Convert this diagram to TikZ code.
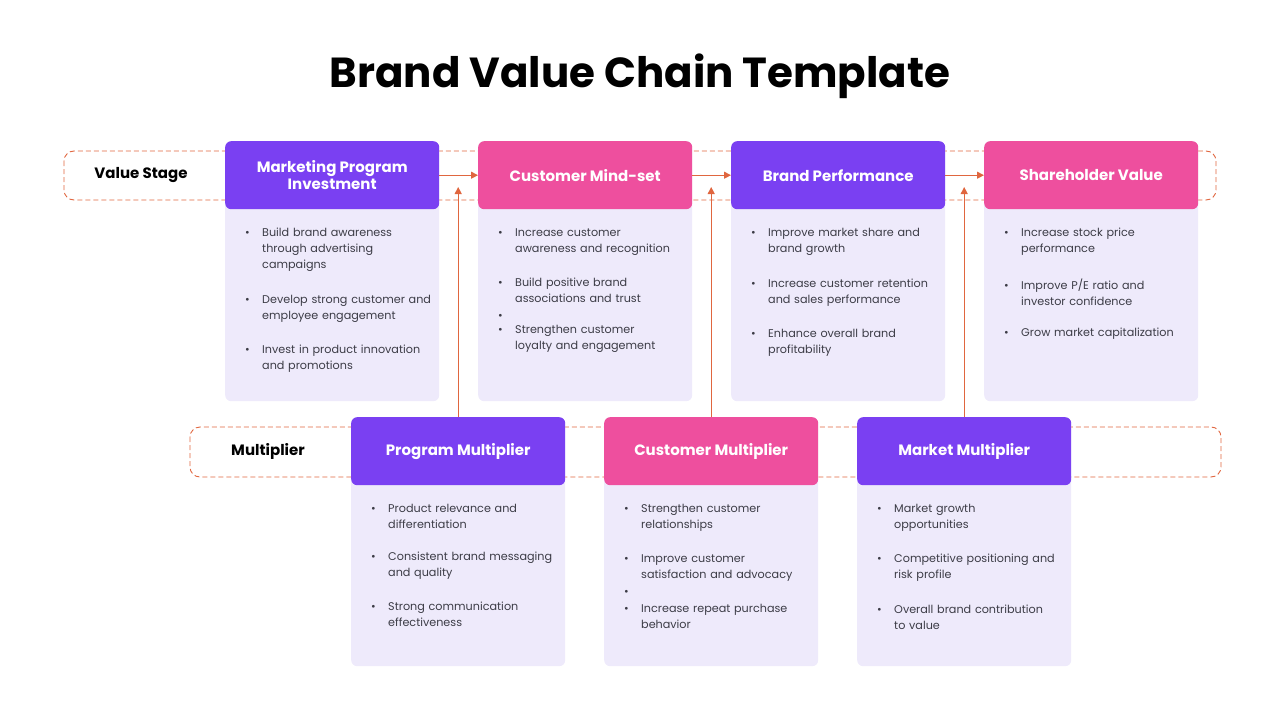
\documentclass[tikz,border=0pt]{standalone}
\usepackage{fontspec}
\setmainfont{Poppins}
\usetikzlibrary{arrows.meta,positioning}
\definecolor{violet}{HTML}{7A40F2}
\definecolor{rose}{HTML}{EE4F9E}
\definecolor{lilac}{HTML}{EEEAFB}
\definecolor{rust}{HTML}{E0663F}
\definecolor{ink}{HTML}{3C3C46}
\tikzset{
  card/.style={fill=lilac, rounded corners=6pt, minimum width=214pt, anchor=north west, inner sep=0pt},
  head/.style={fill=#1, rounded corners=6pt, minimum width=214pt, minimum height=68pt, anchor=north west,
    text=white, font=\fontsize{15}{17}\selectfont\bfseries, align=center, inner sep=0pt},
  body/.style={anchor=north west, text width=190pt, inner sep=0pt, text=ink, font=\fontsize{11.2}{16}\selectfont},
  band/.style={draw=rust, line width=0.9pt, dash pattern=on 5pt off 3pt, rounded corners=10pt},
  tag/.style={font=\fontsize{15}{17}\selectfont\bfseries},
  flow/.style={draw=rust, line width=1.1pt, -{Triangle[length=7pt,width=7pt]}}
}
\newcommand\bi[1]{\noindent\makebox[17pt][l]{\textbullet}\parbox[t]{175pt}{\raggedright #1}\par\vspace{22pt}}
% card: name, x, y, colour, title, bottom, items
\newcommand\stage[7]{%
  \node[card, minimum height=#6pt] at (#2,#3) (#1) {};
  \node[head=#4] at (#2,#3) (#1h) {#5};
  \node[body] at (#2+20,#3+87) (#1b) {#7};
}
\begin{document}
\begin{tikzpicture}[x=1pt,y=-1pt]
\useasboundingbox (0,0) rectangle (1280,720);
\node[font=\fontsize{42}{48}\selectfont\bfseries] (title) at (640,76) {Brand Value Chain Template};

% dashed bands
\draw[band] (64,151) rectangle (1216,200);
\draw[band] (190,427) rectangle (1221,477);
\node[tag] (vs) at (141,175) {Value Stage};
\node[tag] (mu) at (268,451) {Multiplier};

% value stages
\stage{mpi}{225}{141}{violet}{Marketing Program\\Investment}{260}{%
  \bi{Build brand awareness\\through advertising\\campaigns}
  \bi{Develop strong customer and\\employee engagement}
  \bi{Invest in product innovation\\and promotions}}
\stage{cms}{478}{141}{rose}{Customer Mind-set}{260}{%
  \bi{Increase customer\\awareness and recognition}
  \bi{Build positive brand\\associations and trust}
  \bi{Strengthen customer\\loyalty and engagement}}
\stage{bp}{731}{141}{violet}{Brand Performance}{260}{%
  \bi{Improve market share and\\brand growth}
  \bi{Increase customer retention\\and sales performance}
  \bi{Enhance overall brand\\profitability}}
\stage{sv}{984}{141}{rose}{Shareholder Value}{260}{%
  \bi{Increase stock price\\performance}
  \bi{Improve P/E ratio and\\investor confidence}
  \bi{Grow market capitalization}}
\node[text=ink, font=\fontsize{11.2}{16}\selectfont, anchor=base west, inner sep=0pt] (gap1) at (498,319) {\textbullet};

% multipliers
\stage{pm}{351}{417}{violet}{Program Multiplier}{249}{%
  \bi{Product relevance and\\differentiation}
  \bi{Consistent brand messaging\\and quality}
  \bi{Strong communication\\effectiveness}}
\stage{cm}{604}{417}{rose}{Customer Multiplier}{249}{%
  \bi{Strengthen customer\\relationships}
  \bi{Improve customer\\satisfaction and advocacy}
  \bi{Increase repeat purchase\\behavior}}
\stage{mm}{857}{417}{violet}{Market Multiplier}{249}{%
  \bi{Market growth\\opportunities}
  \bi{Competitive positioning and\\risk profile}
  \bi{Overall brand contribution\\to value}}
\node[text=ink, font=\fontsize{11.2}{16}\selectfont, anchor=base west, inner sep=0pt] (gap2) at (624,595) {\textbullet};

% connectors
\draw[flow] (mpih.east) -- (cmsh.west);
\draw[flow] (cmsh.east) -- (bph.west);
\draw[flow] (bph.east) -- (svh.west);
\coordinate (t1) at (pmh.north |- 0,187);
\coordinate (t2) at (cmh.north |- 0,187);
\coordinate (t3) at (mmh.north |- 0,187);
\draw[flow] (pmh.north) -- (t1);
\draw[flow] (cmh.north) -- (t2);
\draw[flow] (mmh.north) -- (t3);
\end{tikzpicture}
\end{document}
